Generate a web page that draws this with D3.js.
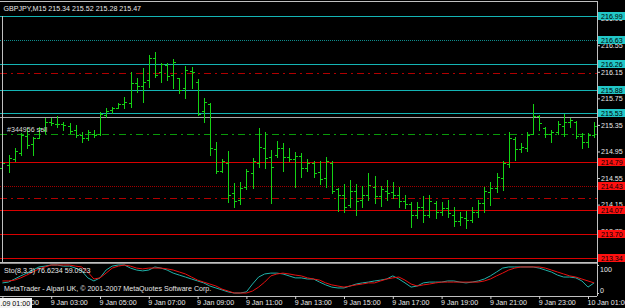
<!DOCTYPE html>
<html><head><meta charset="utf-8">
<script src="https://cdn.jsdelivr.net/npm/d3@7"></script>
<style>
body{margin:0;background:#000;overflow:hidden}
svg{display:block}
text{font-family:"Liberation Sans",Arial,sans-serif;font-size:7.1px}
</style>
</head><body><svg id="c" width="625" height="308"></svg>
<script>
// ---- data (GBPJPY M15, 9 Jan 01:00 .. 10 Jan 01:15) ----
const open = [
214.70,214.75,214.83,214.93,215.18,215.07,215.16,215.28,215.40,215.37,
215.36,215.33,215.28,215.20,215.15,215.22,215.21,215.50,215.57,215.61,
215.66,215.68,215.98,215.93,216.02,216.36,216.14,216.25,216.10,216.05,
215.90,216.16,216.00,215.56,215.66,214.98,214.66,214.78,214.32,214.22,
214.42,214.62,214.78,215.00,214.86,214.90,215.00,214.86,214.83,214.88,
214.70,214.78,214.64,214.55,214.78,214.38,214.30,214.14,214.36,214.22,
214.30,214.42,214.28,214.36,214.34,214.30,214.20,214.16,214.00,214.12,
214.00,214.18,214.04,214.10,214.00,213.90,213.95,213.92,214.04,214.18,
214.34,214.40,214.55,214.76,215.14,214.98,215.00,215.22,215.48,215.30,
215.22,215.24,215.34,215.40,215.40,215.18,215.10,215.20];
const high = [
214.82,214.90,215.00,215.23,215.30,215.17,215.32,215.45,215.45,215.48,
215.39,215.38,215.35,215.24,215.27,215.27,215.54,215.60,215.62,215.68,
215.77,216.15,216.06,216.21,216.40,216.45,216.28,216.28,216.34,216.06,
216.24,216.22,216.04,215.76,215.68,215.09,214.84,214.96,214.48,214.49,
214.69,214.85,215.30,215.24,214.97,215.11,215.08,215.00,214.94,214.93,
214.84,214.81,214.81,214.87,214.81,214.40,214.46,214.52,214.46,214.43,
214.63,214.58,214.43,214.52,214.49,214.42,214.29,214.19,214.19,214.28,
214.29,214.20,214.19,214.22,214.11,214.04,214.05,214.11,214.22,214.42,
214.49,214.63,214.81,215.24,215.17,215.08,215.24,215.67,215.50,215.32,
215.27,215.41,215.51,215.45,215.41,215.23,215.23,215.39];
const low = [
214.67,214.64,214.81,214.90,215.00,214.90,215.15,215.23,215.35,215.32,
215.27,215.23,215.17,215.09,215.12,215.17,215.20,215.47,215.53,215.60,
215.60,215.62,215.85,215.70,215.92,216.07,216.00,216.03,215.91,215.83,
215.76,215.91,215.50,215.39,214.90,214.63,214.64,214.19,214.11,214.16,
214.38,214.40,214.72,214.70,214.17,214.87,214.66,214.81,214.42,214.57,
214.66,214.57,214.46,214.42,214.32,214.05,214.04,214.11,213.99,214.11,
214.22,214.17,214.13,214.22,214.25,214.11,214.10,213.81,213.95,213.89,
213.96,213.95,213.99,213.96,213.83,213.84,213.80,213.89,213.96,214.04,
214.14,214.34,214.37,214.72,214.82,214.94,214.96,215.21,215.27,215.17,
215.09,215.21,215.18,215.32,215.15,215.00,215.02,215.17];
const close = [
214.78,214.85,214.96,215.20,215.05,215.15,215.30,215.40,215.38,215.36,
215.35,215.26,215.20,215.16,215.24,215.20,215.52,215.56,215.60,215.66,
215.70,215.98,215.94,216.00,216.36,216.10,216.26,216.08,216.30,215.88,
216.18,216.15,215.52,215.70,215.00,214.66,214.80,214.30,214.20,214.40,
214.65,214.80,215.02,214.85,214.72,215.00,214.86,214.84,214.88,214.70,
214.78,214.62,214.54,214.80,214.36,214.30,214.12,214.36,214.20,214.30,
214.44,214.28,214.38,214.32,214.30,214.20,214.16,214.00,214.12,214.00,
214.20,214.04,214.10,214.02,213.90,213.96,213.92,214.04,214.18,214.36,
214.40,214.56,214.78,215.16,214.98,215.02,215.20,215.48,215.38,215.22,
215.24,215.36,215.40,215.42,215.18,215.10,215.20,215.34];
const stoMain = [
36,39,50,61,71,82,93,96,100,100,
96,96,89,79,54,43,54,82,96,100,
100,89,82,79,82,93,89,82,71,64,
57,50,43,36,25,18,11,4,0,0,
4,32,57,68,71,71,68,61,54,54,
50,50,39,29,21,18,18,25,32,36,
39,43,46,50,61,50,36,21,25,36,
39,39,39,43,43,39,36,39,43,50,
61,75,89,93,93,93,93,93,89,82,
75,64,57,57,54,43,21,36];
const stoSignal = [
43,43,46,54,64,75,86,93,100,100,
100,100,96,93,75,50,54,71,89,96,
100,96,89,86,89,89,89,86,82,75,
68,57,46,39,32,25,14,7,0,0,
0,7,21,39,61,68,71,68,64,61,
54,50,46,36,29,25,21,25,29,32,
36,36,43,50,54,57,46,32,25,29,
32,36,39,39,39,39,39,39,39,43,
50,61,71,82,89,93,93,93,93,89,
82,75,68,61,57,50,43,36];
const tealLevels = [216.99, 216.63, 216.26, 215.88, 215.53];
const redLevels  = [214.79, 214.43, 214.07, 213.70, 213.34];
const dottedLevels = [216.63, 214.43];
const orderPrice = 215.21, stopPrice = 216.13, takePrice = 214.25, bidPrice = 215.47;
const priceTicks = [216.95,216.55,216.15,215.75,215.35,214.95,214.55,214.15,213.75];
const timeTickIdx = [0,8,16,24,32,40,48,56,64,72,80,88,96];
const timeLabels = ["9 Jan 01:00","9 Jan 03:00","9 Jan 05:00","9 Jan 07:00","9 Jan 09:00","9 Jan 11:00",
  "9 Jan 13:00","9 Jan 15:00","9 Jan 17:00","9 Jan 19:00","9 Jan 21:00","9 Jan 23:00","10 Jan 01:00"];
const titleText = "GBPJPY,M15  215.34 215.52 215.28 215.47";
const stoText = "Sto(8,3,3) 76.6234 59.0923";
const copyText = "MetaTrader - Alpari UK, \u00A9 2001-2007 MetaQuotes Software Corp.";
const orderText = "#344956 sell";

// ---- layout ----
const W=625,H=308, R=597, mainTop=2, mainBot=262, indTop=264, indBot=296;
const svg=d3.select('#c');
svg.append('rect').attr('width',W).attr('height',H).attr('fill','#000');
const x=d3.scaleLinear().domain([0,open.length-1]).range([2.4,594.1]);
const y=d3.scaleLinear().domain([213.34,216.99]).range([258.4,16]);
const ys=d3.scaleLinear().domain([0,100]).range([293,265]);
const px=v=>Math.round(v)+0.5;

const main=svg.append('g');
const hline=(p,color,dash,w)=>main.append('line').attr('x1',0).attr('x2',R).attr('y1',px(y(p))).attr('y2',px(y(p)))
  .attr('stroke',color).attr('stroke-width',w||1).attr('stroke-dasharray',dash||null).attr('shape-rendering','crispEdges');

// level lines
tealLevels.forEach(p=>hline(p, dottedLevels.includes(p)?'#0e8c8c':'#14b4b4', dottedLevels.includes(p)?'1,1':null));
redLevels.forEach(p=>hline(p, dottedLevels.includes(p)?'#a00000':'#d80000', dottedLevels.includes(p)?'1,1':null));
hline(stopPrice,'#b00000','7,4,2,4');
hline(takePrice,'#b00000','7,4,2,4');
hline(orderPrice,'#0a9a0a','7,4,2,4');
hline(bidPrice,'#a8a8a8');

// bars
const barPath=i=>{
  const cx=px(x(i)), h=Math.round(y(high[i])), l=Math.round(y(low[i]))+1,
        o=px(y(open[i])), c=px(y(close[i]));
  return `M${cx},${h}V${l}M${cx-2.5},${o}H${cx}M${cx},${c}H${cx+2.5}`;
};
main.append('g').selectAll('path').data(d3.range(open.length)).join('path')
  .attr('d',barPath).attr('stroke','#14d214').attr('fill','none').attr('shape-rendering','crispEdges');

// texts
svg.append('text').attr('x',3.5).attr('y',11).attr('fill','#e8e8e8').text(titleText);
svg.append('text').attr('x',7).attr('y',132).attr('fill','#d8d8d8').text(orderText);

// price axis
const pax=svg.append('g').attr('transform',`translate(${R},0)`)
  .call(d3.axisRight(y).tickValues(priceTicks).tickSize(3).tickPadding(1).tickFormat(d3.format('.2f')));
pax.select('.domain').remove();
pax.selectAll('line').attr('stroke','#d0d0d0');
pax.selectAll('text').attr('fill','#e8e8e8').style('font-size','7.1px').style('font-family','"Liberation Sans",Arial,sans-serif');

// level boxes
const box=(p,fill)=>{
  const yy=Math.round(y(p));
  svg.append('rect').attr('x',598).attr('y',yy-4).attr('width',27).attr('height',8).attr('fill',fill);
  svg.append('text').attr('x',601).attr('y',yy+3).attr('fill','#000').text(d3.format('.2f')(p));
};
tealLevels.forEach(p=>box(p,'#22c8c8'));
redLevels.forEach(p=>box(p,'#ff1010'));

// borders
const g=svg.append('g').attr('stroke','#c0c0c0').attr('shape-rendering','crispEdges');
g.append('line').attr('x1',0).attr('x2',R).attr('y1',1.5).attr('y2',1.5);
g.append('line').attr('x1',R+0.5).attr('x2',R+0.5).attr('y1',1).attr('y2',indBot);
g.append('line').attr('x1',0).attr('x2',R).attr('y1',mainBot+0.5).attr('y2',mainBot+0.5);
g.append('line').attr('x1',0).attr('x2',R).attr('y1',indTop-0.5).attr('y2',indTop-0.5).attr('stroke','#909090');
g.append('line').attr('x1',0).attr('x2',R).attr('y1',indBot+0.5).attr('y2',indBot+0.5);
g.append('line').attr('x1',2.5).attr('x2',2.5).attr('y1',16).attr('y2',mainBot);

// stochastic window
const line=d3.line().x((d,i)=>x(i)).y(d=>ys(d));
svg.append('path').datum(stoMain).attr('d',line).attr('fill','none').attr('stroke','#20b2aa').attr('stroke-width',1);
svg.append('path').datum(stoSignal).attr('d',line).attr('fill','none').attr('stroke','#e81010').attr('stroke-width',1);
svg.append('text').attr('x',4).attr('y',273).attr('fill','#e8e8e8').text(stoText);
svg.append('text').attr('x',4).attr('y',291).attr('fill','#e8e8e8').text(copyText);
const sax=svg.append('g').attr('transform',`translate(${R},0)`)
  .call(d3.axisRight(ys).tickValues([0,100]).tickSize(2).tickPadding(1).tickFormat(d3.format('d')));
sax.select('.domain').remove();
sax.selectAll('line').attr('stroke','#d0d0d0');
sax.selectAll('text').attr('fill','#e8e8e8').style('font-size','7.1px').style('font-family','"Liberation Sans",Arial,sans-serif')
  .attr('dy',d=>d===100?'0.9em':'-0.05em');

// time axis
const tax=svg.append('g').attr('transform',`translate(0,${indBot})`)
  .call(d3.axisBottom(x).tickValues(timeTickIdx).tickSize(3).tickPadding(1).tickFormat((d,i)=>timeLabels[i]));
tax.select('.domain').remove();
tax.selectAll('line').attr('stroke','#d0d0d0');
tax.selectAll('text').attr('fill','#e8e8e8').attr('text-anchor','start').attr('x',-1)
  .style('font-size','7.1px').style('font-family','"Liberation Sans",Arial,sans-serif');
svg.append('rect').attr('x',0).attr('y',298).attr('width',32).attr('height',10).attr('fill','#f4f4f4');
svg.append('text').attr('x',0.5).attr('y',305.5).attr('fill','#000').text('.09 01:00');
</script></body></html>
